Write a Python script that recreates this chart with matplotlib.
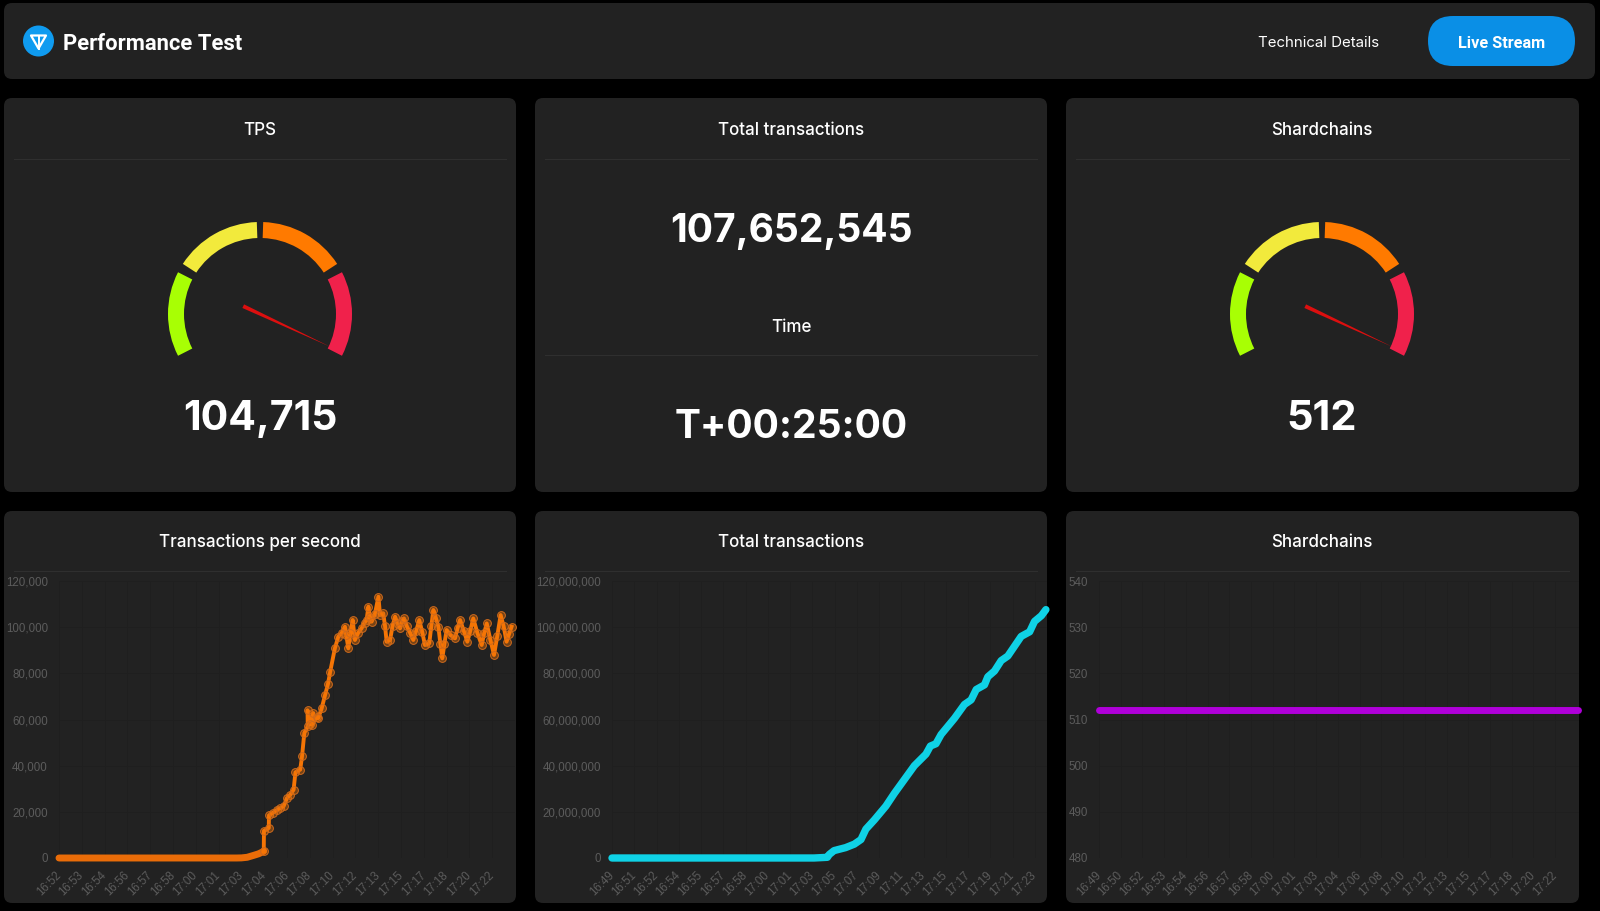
import numpy as np
import matplotlib
matplotlib.use("Agg")
import matplotlib.pyplot as plt
from matplotlib.patches import FancyBboxPatch, Wedge, Circle, Polygon
from matplotlib.ticker import FuncFormatter

# ---------- data ----------
tps_labels = ["16:52","16:53","16:54","16:56","16:57","16:58","17:00","17:01","17:03","17:04",
              "17:06","17:08","17:10","17:12","17:13","17:15","17:17","17:18","17:20","17:22"]
tps_start_pos = [i * 0.2 for i in range(40)] + [8.0, 8.25, 8.54, 8.75, 8.9, 8.98]
tps_start_values = [0] * 40 + [50, 300, 1150, 1800, 2500, 3000]
tps_pos = [8.99,9.2,9.21,9.4,9.56,9.7,9.85,10.0,10.15,10.29,10.37,10.58,10.66,10.76,10.91,
           10.9,11.0,11.15,11.1,11.3,11.37,11.52,11.67,11.8,11.89,12.1,12.25,12.4,12.54,12.6,12.69,12.78,12.88,12.98,
           13.12,13.27,13.4,13.49,13.57,13.64,13.71,13.85,14.01,14.08,14.22,14.3,14.37,14.52,14.63,14.74,14.85,14.96,
           15.05,15.13,15.25,15.4,15.54,15.67,15.8,15.93,16.05,16.24,16.33,16.42,16.53,16.64,16.73,16.81,16.9,
           17.0,17.18,17.37,17.48,17.59,17.75,17.91,18.04,18.17,18.35,18.54,18.65,18.76,18.92,19.08,19.22,19.37,
           19.5,19.63,19.74,19.85]
tps_values = [11800,13000,18500,19700,20900,21600,22400,26000,27500,29600,37100,38300,44100,54200,57000,
              64000,58000,62800,57800,61200,60600,64800,70600,75500,80500,90800,95880,97500,100200,96500,90830,97500,103100,94440,
              97500,99500,102000,103100,108900,104500,102380,105500,113200,105270,106000,100500,93700,94440,100500,104550,101500,99500,
              102500,103800,100500,97500,94440,98500,103100,98000,92270,93000,100500,107440,104000,100200,92500,86500,92500,
              98770,96500,95160,99500,103100,98500,93700,98500,103800,97500,92270,97500,101650,94500,87940,96000,105270,
              100500,93700,97000,100200]

total_labels = ["16:49","16:51","16:52","16:54","16:55","16:57","16:58","17:00","17:01","17:03",
                "17:05","17:07","17:09","17:11","17:13","17:15","17:17","17:19","17:21","17:23"]
total_pos = [0,9.08,9.68,9.76,9.98,10.5,10.89,11.19,11.41,11.79,12.31,12.69,13.14,13.59,14.11,14.31,14.56,14.79,
             15.39,15.84,16.14,16.37,16.74,16.89,17.19,17.49,17.79,18.39,18.77,18.99,19.3,19.5]
total_values = [0,0,0.3e6,1.5e6,3.2e6,4.5e6,6e6,8e6,12.5e6,16.5e6,22.5e6,28e6,34e6,40e6,45e6,48.5e6,49.5e6,53.5e6,
                60.5e6,66.5e6,68.5e6,73e6,75e6,78.5e6,81e6,85.5e6,87.5e6,96e6,98e6,102.5e6,105e6,107.6e6]

shard_labels = ["16:49","16:50","16:52","16:53","16:54","16:56","16:57","16:58","17:00","17:01","17:03",
                "17:04","17:06","17:08","17:10","17:12","17:13","17:15","17:17","17:18","17:20","17:22"]
shard_pos = [0, 22.05]
shard_values = [512, 512]

gauge_segments = [(153, 207, "#a8ff04"), (92, 147, "#f2ea3c"), (33, 88, "#ff7a00"), (-27, 27, "#f0214b")]
needle_angle = -25

W, H = 1600, 911
fig = plt.figure(figsize=(W / 100, H / 100), dpi=100, facecolor="black")
bg = fig.add_axes([0, 0, 1, 1], zorder=0)
bg.set_xlim(0, W); bg.set_ylim(H, 0); bg.axis("off")

CARD = "#222222"
LINE = "#303030"
UI = ["Inter", "DejaVu Sans"]
px = 0.72


def card(x0, y0, x1, y1, r=8):
    bg.add_patch(FancyBboxPatch((x0 + r, y0 + r), x1 - x0 - 2 * r, y1 - y0 - 2 * r,
                                boxstyle=f"round,pad={r},rounding_size={r}", fc=CARD, ec="none"))


def text(x, y, s, size, weight="normal", color="white", family=UI, ha="center"):
    bg.text(x, y, s, fontsize=size * px, fontweight=weight, color=color, family=family, ha=ha, va="center")


# header
card(4, 3, 1595, 79)
bg.add_patch(Circle((38.5, 41), 15.5, fc="#0f9bf0", ec="none"))
bg.add_patch(Polygon([(31, 35.5), (46, 35.5), (38.5, 48.5)], closed=True, fc="none", ec="white", lw=1.6, joinstyle="round"))
bg.plot([38.5, 38.5], [35.5, 48.5], color="white", lw=1.4)
text(63, 44, "Performance Test", 22, "bold", family=["Roboto", "DejaVu Sans"], ha="left")
text(1319, 43, "Technical Details", 15)
bg.add_patch(FancyBboxPatch((1428 + 25, 16 + 25), 147 - 50, 0.01,
                            boxstyle="round,pad=25,rounding_size=25", fc="#0a8fe6", ec="none"))
text(1502, 43, "Live Stream", 16.3, "bold", family=["Roboto", "DejaVu Sans"])

# cards
cols = [(4, 516), (535, 1047), (1066, 1579)]
for x0, x1 in cols:
    card(x0, 98, x1, 492)
    card(x0, 511, x1, 903)
    bg.plot([x0 + 10, x1 - 10], [158.5, 158.5], color=LINE, lw=0.7)
    bg.plot([x0 + 10, x1 - 10], [571, 571], color=LINE, lw=0.7)
bg.plot([545, 1037], [355, 355], color=LINE, lw=0.7)

text(260, 130.5, "TPS", 17, "medium")
text(791, 130.5, "Total transactions", 17, "medium")
text(1322, 130.5, "Shardchains", 17, "medium")
text(791, 327, "Time", 17, "medium")
text(260, 542.5, "Transactions per second", 17, "medium")
text(791, 542.5, "Total transactions", 17, "medium")
text(1322, 542.5, "Shardchains", 17, "medium")
text(791, 231, "107,652,545", 39, "bold")
text(791, 427, "T+00:25:00", 39, "bold")
text(260, 419, "104,715", 41, "bold")
text(1322, 419, "512", 41.5, "bold")


def gauge(cx, cy):
    # y grows downward in this axes, so Wedge angles are mirrored
    for a0, a1, c in gauge_segments:
        bg.add_patch(Wedge((cx, cy), 92, -a1, -a0, width=16, fc=c, ec="none"))
    a = np.radians(needle_angle)
    ux, uy = np.cos(a), -np.sin(a)
    nx, ny = -uy, ux
    tail, tip = -18.5, 78
    bg.add_patch(Polygon([(cx + ux * tail + nx * 2, cy + uy * tail + ny * 2),
                          (cx + ux * tail - nx * 2, cy + uy * tail - ny * 2),
                          (cx + ux * tip, cy + uy * tip)], closed=True, fc="#dc0f0f", ec="none"))


gauge(260, 314)
gauge(1322, 314)


def style(ax, labels, xmax, ymin, ymax, step):
    ax.set_xlim(0, xmax)
    ax.set_ylim(ymin, ymax)
    ax.set_xticks(range(len(labels)))
    ax.set_xticklabels(labels, family=["Liberation Sans"], fontsize=8.3, color="#5c5c5c",
                       rotation=45, ha="right", va="center", rotation_mode="anchor")
    ax.set_yticks(np.arange(ymin, ymax + 1, step))
    ax.yaxis.set_major_formatter(FuncFormatter(lambda v, _: f"{v:,.0f}"))
    for t in ax.get_yticklabels():
        t.set_family(["Liberation Sans"]); t.set_fontsize(8.3); t.set_color("#5c5c5c")
    ax.tick_params(axis="both", length=0)
    ax.tick_params(axis="x", pad=11)
    ax.tick_params(axis="y", pad=8)
    ax.grid(True, color="#1f1f1f", lw=0.5)
    ax.set_axisbelow(True)


def new_ax(left, right):
    top, bottom = 581, 858
    ax = fig.add_axes([left / W, 1 - bottom / H, (right - left) / W, (bottom - top) / H], zorder=2)
    ax.set_facecolor("none")
    for s in ax.spines.values():
        s.set_visible(False)
    return ax


ax1 = new_ax(59, 515)
style(ax1, tps_labels, 20, 0, 120000, 20000)
ax1.plot(tps_start_pos, tps_start_values, color="#ea6c08", lw=5, solid_capstyle="round", clip_on=False)
ax1.plot(tps_start_pos[-1:] + tps_pos, tps_start_values[-1:] + tps_values, color="#f57505", lw=2.8, clip_on=False,
         solid_joinstyle="round", marker="o", ms=5.6, mfc="#f5750566", mec="#cf6a1c", mew=0.7)

ax2 = new_ax(612, 1047)
style(ax2, total_labels, 19.55, 0, 120e6, 20e6)
ax2.plot(total_pos, total_values, color="#0fd2e6", lw=5.3, solid_capstyle="round", solid_joinstyle="round", clip_on=False)

ax3 = new_ax(1099, 1579)
style(ax3, shard_labels, 22.1, 480, 540, 10)
ax3.plot(shard_pos, shard_values, color="#b000da", lw=5, solid_capstyle="round", clip_on=False)

fig.savefig("out.png", dpi=100, facecolor="black")
